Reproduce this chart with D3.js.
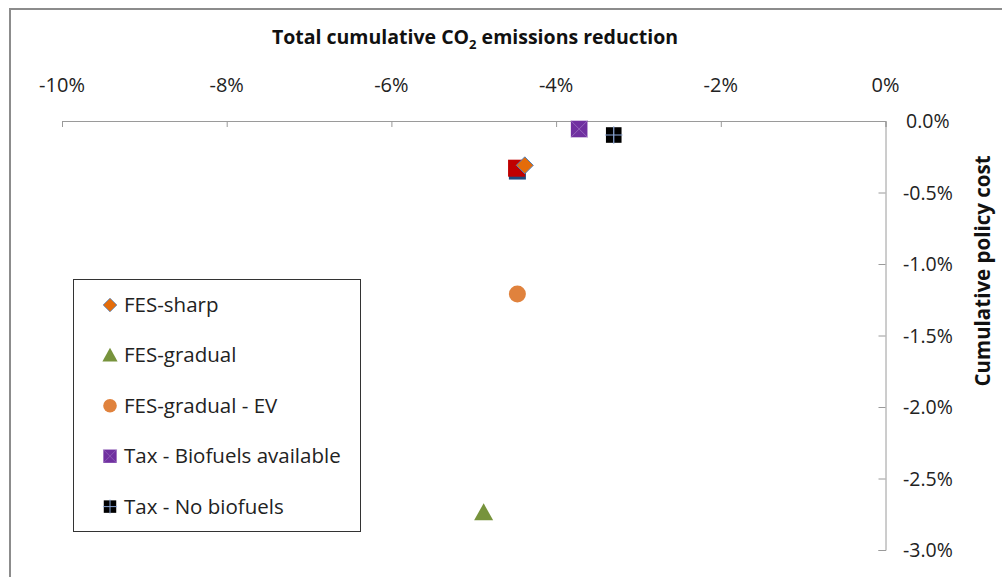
<!DOCTYPE html>
<html><head><meta charset="utf-8">
<script src="https://cdn.jsdelivr.net/npm/d3@7"></script>
<style>
html,body{margin:0;padding:0;background:#fff;}
svg{display:block;font-family:"Open Sans",Lato,sans-serif;}
</style></head>
<body>
<svg id="chart" width="1002" height="577"></svg>
<script>
// ---- data ----
const seriesNames = ["FES-sharp","FES-gradual","FES-gradual - EV","Tax - Biofuels available","Tax - No biofuels"];
const emissionsReduction = [-4.38, -4.88, -4.47, -3.72, -3.30]; // % (x)
const policyCost = [-0.31, -2.74, -1.21, -0.056, -0.098];        // % (y)
// extra unlabeled series (hidden under FES-sharp)
const extraNames = ["Series A","Series B"];
const extraX = [-4.47, -4.48];
const extraY = [-0.35, -0.33];
const xTicks = [-10,-8,-6,-4,-2,0];
const yTicks = [0,-0.5,-1,-1.5,-2,-2.5,-3];

const svg = d3.select("#chart");
const x = d3.scaleLinear().domain([-10,0]).range([62,885.5]);
const y = d3.scaleLinear().domain([0,-3]).range([121,550]);

// chart border (left & top)
svg.append("path").attr("d","M10,577 L10,9 L1002,9").attr("fill","none").attr("stroke","#8c8c8c").attr("stroke-width",2);

const axisColor = "#9a9a9a";
// x axis (line at y=0, ticks down, labels above)
const gx = svg.append("g").attr("transform",`translate(0,${y(0)})`)
  .call(d3.axisBottom(x).tickValues(xTicks).tickSize(6).tickSizeOuter(6).tickFormat(""));
gx.selectAll("path,line").attr("stroke",axisColor);
svg.append("g").selectAll("text").data(xTicks).join("text")
  .attr("x",d=>x(d)).attr("y",91.5).attr("text-anchor","middle")
  .attr("font-size",20).attr("fill","#222")
  .text(d=>d+"%");

// y axis at x=0, ticks left, labels right
const gy = svg.append("g").attr("transform",`translate(${x(0)},0)`)
  .call(d3.axisLeft(y).tickValues(yTicks).tickSize(7).tickSizeOuter(7).tickFormat(""));
gy.selectAll("path,line").attr("stroke",axisColor);
svg.append("g").selectAll("text").data(yTicks).join("text")
  .attr("x",d=> d===0 ? 906 : 903).attr("y",d=>y(d)+7).attr("text-anchor","start")
  .attr("font-size",19.5).attr("fill","#222")
  .text(d=>d3.format(".1f")(d).replace("−","-")+"%");

// titles
const t = svg.append("text").attr("x",475).attr("y",44).attr("text-anchor","middle")
  .attr("font-size",19.5).attr("font-weight","bold").attr("fill","#111");
t.append("tspan").text("Total cumulative CO");
t.append("tspan").attr("font-size",13).attr("dy",5).text("2");
t.append("tspan").attr("dy",-5).text(" emissions reduction");
svg.append("text").attr("transform","translate(990,271) rotate(-90)").attr("text-anchor","middle")
  .attr("font-size",20.5).attr("font-weight","bold").attr("fill","#111").text("Cumulative policy cost");

// marker drawing
function drawMarker(g, i, cx, cy){
  if(i===0){ // diamond
    g.append("path").attr("d",`M${cx},${cy-8.5}L${cx+8.5},${cy}L${cx},${cy+8.5}L${cx-8.5},${cy}Z`)
      .attr("fill","#E46C0A").attr("stroke","#4F81BD").attr("stroke-width",1);
  } else if(i===1){ // triangle
    g.append("path").attr("d",`M${cx},${cy-9.5}L${cx+9.5},${cy+7.5}L${cx-9.5},${cy+7.5}Z`)
      .attr("fill","#77933C");
  } else if(i===2){ // circle
    g.append("circle").attr("cx",cx).attr("cy",cy).attr("r",8.5).attr("fill","#E0823D");
  } else if(i===3){ // purple square with X
    const s=8.3;
    g.append("rect").attr("x",cx-s).attr("y",cy-s).attr("width",2*s).attr("height",2*s).attr("fill","#7030A0");
    g.append("path").attr("d",`M${cx-s},${cy-s}L${cx+s},${cy+s}M${cx+s},${cy-s}L${cx-s},${cy+s}`)
      .attr("stroke","#9b6fc0").attr("stroke-width",0.8);
  } else if(i===4){ // black square with plus
    const s=7.8;
    g.append("rect").attr("x",cx-s).attr("y",cy-s).attr("width",2*s).attr("height",2*s).attr("fill","#000");
    g.append("path").attr("d",`M${cx},${cy-s-1}L${cx},${cy+s+1}M${cx-s-1},${cy}L${cx+s+1},${cy}`)
      .attr("stroke","#8eaadb").attr("stroke-width",1.2);
  }
}

const marks = svg.append("g");
// extra series first (underneath)
const extraColors = ["#1F497D","#C00000"];
extraX.forEach((v,k)=>{
  const s=8.5;
  marks.append("rect").attr("x",x(v)-s).attr("y",y(extraY[k])-s).attr("width",2*s).attr("height",2*s)
    .attr("fill",extraColors[k]);
});
// draw order: so FES-sharp on top of red square
[1,2,4,3,0].forEach(i=>drawMarker(marks.append("g"), i, x(emissionsReduction[i]), y(policyCost[i])));

// legend
const lg = svg.append("g");
lg.append("rect").attr("x",73.5).attr("y",279.5).attr("width",287).attr("height",252)
  .attr("fill","#fff").attr("stroke","#333").attr("stroke-width",1);
seriesNames.forEach((n,i)=>{
  const ly = 305 + i*50.4;
  const mg = lg.append("g").attr("transform","translate(110,"+ly+") scale(0.8) translate(-110,"+(-ly)+")");
  drawMarker(mg, i, 110, ly);
  lg.append("text").attr("x",124).attr("y",ly+7).attr("font-size",20.5).attr("fill","#222").text(n);
});
</script>
</body></html>
